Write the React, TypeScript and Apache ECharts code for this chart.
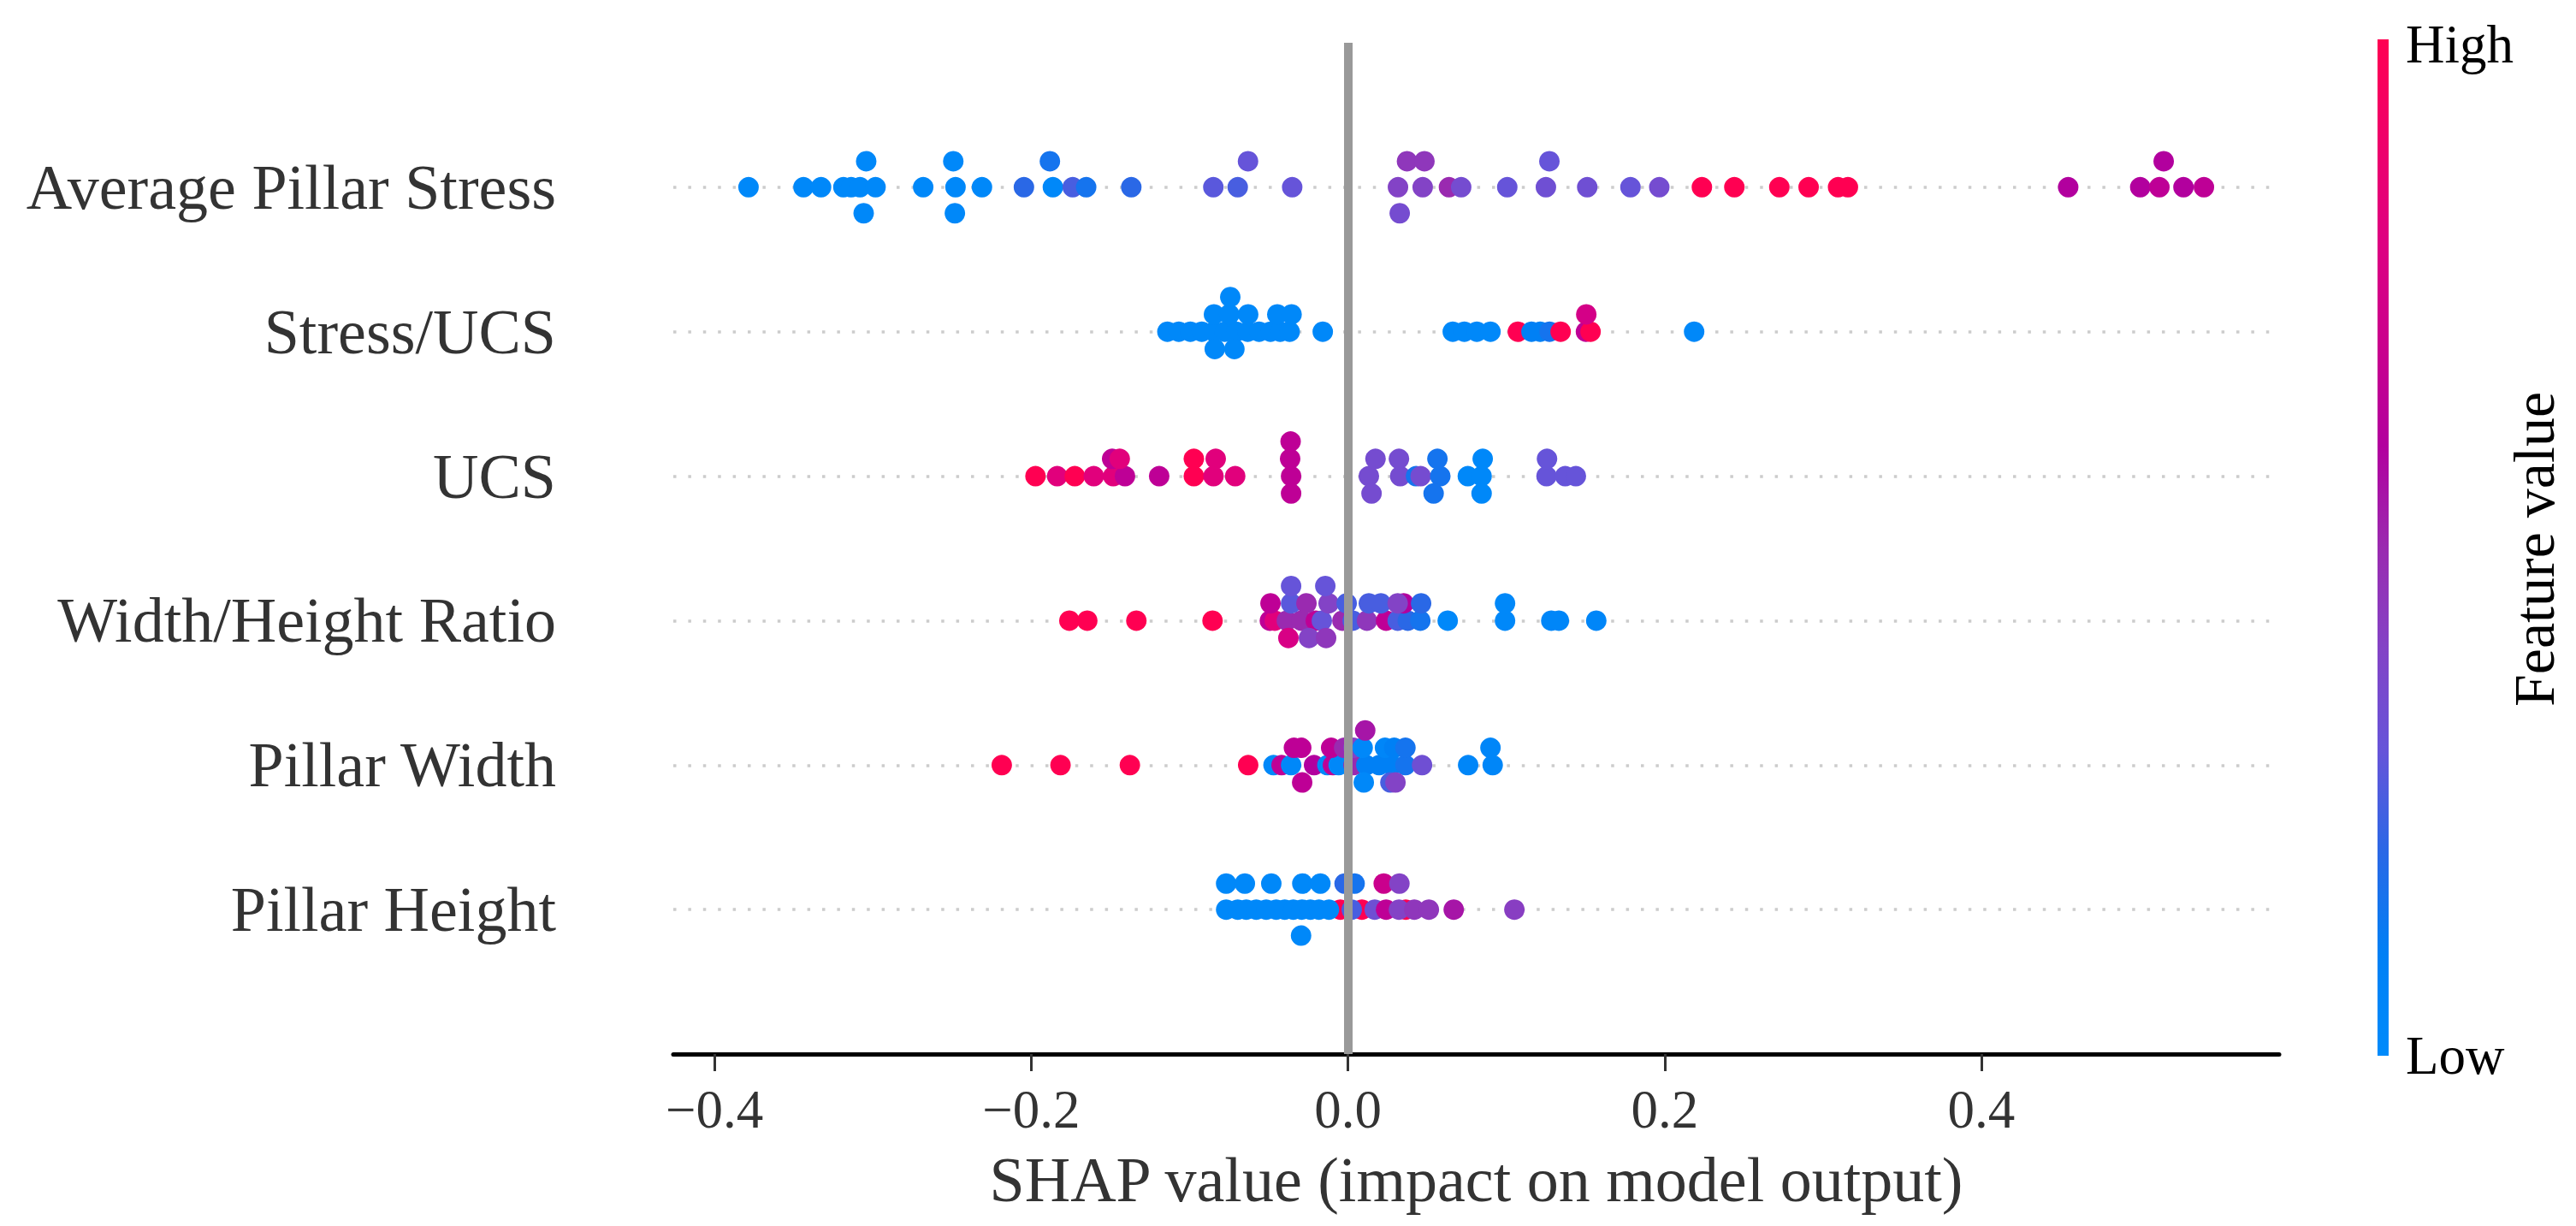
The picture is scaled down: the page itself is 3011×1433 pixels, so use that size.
import React, { useEffect, useRef } from "react";
import * as echarts from "echarts";

// Feature names, top to bottom
const features = [
  "Average Pillar Stress",
  "Stress/UCS",
  "UCS",
  "Width/Height Ratio",
  "Pillar Width",
  "Pillar Height",
];

// Each point: [SHAP value, swarm layer (negative = above the row line), normalised feature value]
const avgPillarStress: number[][] = [
  [-0.3785, 0, 0.03], [-0.3438, 0, 0.03], [-0.3327, 0, 0.03], [-0.3186, 0, 0.03], [-0.3137, 0, 0.03],
  [-0.3081, 0, 0.03], [-0.2983, 0, 0.03], [-0.2682, 0, 0.03], [-0.2478, 0, 0.03], [-0.2311, 0, 0.03],
  [-0.2046, 0, 0.2], [-0.1863, 0, 0.03], [-0.1738, 0, 0.25], [-0.1653, 0, 0.15], [-0.1368, 0, 0.2],
  [-0.085, 0, 0.28], [-0.0696, 0, 0.25], [-0.0352, 0, 0.3], [0.0316, 0, 0.4], [0.0472, 0, 0.4],
  [0.0638, 0, 0.5], [0.0715, 0, 0.35], [0.1006, 0, 0.3], [0.125, 0, 0.33], [0.1511, 0, 0.33],
  [0.1784, 0, 0.3], [0.1966, 0, 0.35], [0.2235, 0, 1], [0.244, 0, 1], [0.2724, 0, 1],
  [0.2909, 0, 1], [0.3095, 0, 1], [0.3157, 0, 1], [0.4548, 0, 0.6], [0.5003, 0, 0.6],
  [0.5124, 0, 0.65], [0.5276, 0, 0.6], [0.5405, 0, 0.65],
  [-0.3042, -1, 0.03], [-0.2492, -1, 0.03], [-0.1882, -1, 0.15], [-0.0631, -1, 0.3],
  [0.0373, -1, 0.45], [0.0483, -1, 0.45], [0.1272, -1, 0.3], [0.5151, -1, 0.6],
  [-0.3058, 1, 0.03], [-0.2482, 1, 0.03], [0.0327, 1, 0.35],
];

const stressUcs: number[][] = [
  [-0.114, 0, 0.03], [-0.1068, 0, 0.03], [-0.0995, 0, 0.03], [-0.0923, 0, 0.03], [-0.0846, 0, 0.03],
  [-0.0778, 0, 0.03], [-0.0705, 0, 0.03], [-0.0633, 0, 0.03], [-0.0561, 0, 0.03], [-0.0489, 0, 0.03],
  [-0.0428, 0, 0.03], [-0.0368, 0, 0.03], [-0.0159, 0, 0.03],
  [-0.0846, -1, 0.03], [-0.0749, -1, 0.03], [-0.063, -1, 0.03], [-0.0446, -1, 0.03], [-0.0356, -1, 0.03],
  [-0.0743, -2, 0.03],
  [-0.0841, 1, 0.03], [-0.0717, 1, 0.03],
  [0.0662, 0, 0.03], [0.0735, 0, 0.03], [0.0814, 0, 0.03], [0.09, 0, 0.03], [0.1073, 0, 1],
  [0.1159, 0, 0.1], [0.1214, 0, 0.1], [0.1273, 0, 0.15], [0.1343, 0, 1], [0.1503, 0, 0.65],
  [0.1532, 0, 1], [0.1505, -1, 0.75], [0.2186, 0, 0.03],
];

const ucs: number[][] = [
  [-0.1973, 0, 1], [-0.1836, 0, 0.82], [-0.1725, 0, 1], [-0.1605, 0, 0.82], [-0.1482, 0, 0.82],
  [-0.1408, 0, 0.65], [-0.1192, 0, 0.65], [-0.0973, 0, 1], [-0.0849, 0, 0.82], [-0.0712, 0, 0.82],
  [-0.0359, 0, 0.65], [0.0132, 0, 0.35], [0.033, 0, 0.35], [0.043, 0, 0.15], [0.0459, 0, 0.35],
  [0.0583, 0, 0.15], [0.0757, 0, 0.03], [0.0844, 0, 0.03], [0.1254, 0, 0.3], [0.1372, 0, 0.3],
  [0.1439, 0, 0.3],
  [-0.1489, -1, 0.65], [-0.1441, -1, 0.82], [-0.0973, -1, 1], [-0.0835, -1, 0.82], [-0.0365, -1, 0.65],
  [0.0174, -1, 0.35], [0.0322, -1, 0.35], [0.0565, -1, 0.15], [0.0851, -1, 0.03], [0.1257, -1, 0.3],
  [-0.0362, -2, 0.65],
  [-0.0359, 1, 0.65], [0.0149, 1, 0.35], [0.0541, 1, 0.15], [0.0844, 1, 0.03],
];

const widthHeightRatio: number[][] = [
  [-0.1759, 0, 1], [-0.1646, 0, 1], [-0.1336, 0, 1], [-0.0855, 0, 1], [-0.0493, 0, 0.65],
  [-0.0462, 0, 0.82], [-0.0386, 0, 0.5], [-0.0295, 0, 0.5], [-0.0203, 0, 0.65], [-0.0165, 0, 0.3],
  [-0.0035, 0, 0.5], [0.003, 0, 0.25], [0.012, 0, 0.45], [0.0241, 0, 0.65], [0.0314, 0, 0.25],
  [0.0378, 0, 0.2], [0.0457, 0, 0.15], [0.063, 0, 0.03], [0.0992, 0, 0.03], [0.1284, 0, 0.05],
  [0.1332, 0, 0.05], [0.1568, 0, 0.05],
  [-0.0489, -1, 0.65], [-0.0359, -1, 0.28], [-0.0262, -1, 0.5], [-0.0122, -1, 0.4], [-0.0008, -1, 0.25],
  [0.0132, -1, 0.25], [0.0208, -1, 0.25], [0.0352, -1, 0.6], [0.0314, -1, 0.4], [0.0462, -1, 0.2],
  [0.0992, -1, 0.03],
  [-0.0359, -2, 0.3], [-0.0143, -2, 0.3],
  [-0.0376, 1, 0.77], [-0.0246, 1, 0.4], [-0.0138, 1, 0.45],
];

const pillarWidth: number[][] = [
  [-0.2186, 0, 1], [-0.1815, 0, 1], [-0.1377, 0, 1], [-0.063, 0, 1], [-0.047, 0, 0.03],
  [-0.0419, 0, 0.65], [-0.0359, 0, 0.03], [-0.0214, 0, 0.6], [-0.013, 0, 0.03], [-0.0095, 0, 0.65],
  [-0.0059, 0, 0.03], [0.0035, 0, 0.5], [0.0116, 0, 0.1], [0.0197, 0, 0.1], [0.0278, 0, 0.1],
  [0.0363, 0, 0.15], [0.0468, 0, 0.33], [0.0759, 0, 0.05], [0.0914, 0, 0.05],
  [-0.0341, -1, 0.65], [-0.0295, -1, 0.65], [-0.0106, -1, 0.65], [-0.0024, -1, 0.5], [0.0035, -1, 0.4],
  [0.0093, -1, 0.03], [0.0234, -1, 0.05], [0.0292, -1, 0.1], [0.0363, -1, 0.15], [0.09, -1, 0.05],
  [0.0109, -2, 0.55],
  [-0.0289, 1, 0.65], [0.01, 1, 0.03], [0.0268, 1, 0.25], [0.03, 1, 0.4],
];

const pillarHeight: number[][] = [
  [-0.0048, 0, 1], [0.0088, 0, 1], [0.0365, 0, 1],
  [-0.0769, 0, 0.03], [-0.0696, 0, 0.03], [-0.0642, 0, 0.03], [-0.0579, 0, 0.03], [-0.0516, 0, 0.03],
  [-0.0453, 0, 0.03], [-0.0399, 0, 0.03], [-0.0345, 0, 0.03], [-0.0291, 0, 0.03], [-0.0237, 0, 0.03],
  [-0.0183, 0, 0.03], [-0.012, 0, 0.03], [0.0024, 0, 0.25], [0.0169, 0, 0.33], [0.0241, 0, 0.65],
  [0.0322, 0, 0.4], [0.0419, 0, 0.45], [0.0511, 0, 0.45], [0.0668, 0, 0.55], [0.1051, 0, 0.42],
  [-0.0769, -1, 0.03], [-0.0651, -1, 0.03], [-0.0484, -1, 0.03], [-0.0288, -1, 0.03], [-0.0174, -1, 0.03],
  [-0.0021, -1, 0.2], [0.0042, -1, 0.15], [0.0226, -1, 0.7], [0.0325, -1, 0.4],
  [-0.0296, 1, 0.03],
];

const rows = [avgPillarStress, stressUcs, ucs, widthHeightRatio, pillarWidth, pillarHeight];

const xTicks = [-0.4, -0.2, 0, 0.2, 0.4];
const colorbarLabels = ["High", "Low"];

// SHAP red_blue colormap, low -> high
const shapColors = [
  "#008bfb", "#0080f5", "#2a68e6", "#6654d9", "#8343c6", "#9a2ab0",
  "#b2009e", "#ca008d", "#de0081", "#ef006a", "#ff0052",
];

const FONT = "'Liberation Serif', 'Times New Roman', serif";

export default function App() {
  const ref = useRef<HTMLDivElement>(null);

  useEffect(() => {
    if (!ref.current) return;
    const chart = echarts.init(ref.current, undefined, { renderer: "svg" });

    const points: number[][] = [];
    rows.forEach((pts, r) => {
      const maxLayer = Math.max(...pts.map((p) => Math.abs(p[1])));
      const step = (0.9 * 0.4) / (maxLayer + 1);
      pts.forEach((p) => points.push([p[0], r + p[1] * step, p[2]]));
    });

    const nLines = features.length + 2;
    const splitColors = Array.from({ length: nLines }, (_, i) =>
      i === 0 || i === nLines - 1 ? "rgba(0,0,0,0)" : "#cccccc"
    );

    const fmt = (v: number) => (v < 0 ? "\u2212" + Math.abs(v).toFixed(1) : v.toFixed(1));

    const gradStops = shapColors
      .slice()
      .reverse()
      .map((c, i) => ({ offset: i / (shapColors.length - 1), color: c }));

    chart.setOption({
      animation: false,
      backgroundColor: "#ffffff",
      textStyle: { fontFamily: FONT },
      grid: { left: 787, right: 347, top: 50, bottom: 201, containLabel: false },
      xAxis: {
        type: "value",
        min: -0.426,
        max: 0.588,
        splitLine: { show: false },
        axisLine: { show: true, onZero: false, lineStyle: { color: "#000000", width: 5 } },
        axisTick: {
          show: true,
          customValues: xTicks,
          length: 20,
          lineStyle: { color: "#333333", width: 3 },
        },
        axisLabel: {
          customValues: xTicks,
          fontSize: 63,
          color: "#333333",
          margin: 33,
          fontFamily: FONT,
          formatter: fmt,
        },
        name: "SHAP value (impact on model output)",
        nameLocation: "middle",
        nameGap: 110,
        nameTextStyle: { fontSize: 74, color: "#333333", fontFamily: FONT },
      },
      yAxis: {
        type: "value",
        min: -1,
        max: features.length,
        interval: 1,
        inverse: true,
        axisLine: { show: false, onZero: false },
        axisTick: { show: false },
        axisLabel: {
          fontSize: 74,
          color: "#333333",
          margin: 137,
          fontFamily: FONT,
          formatter: (v: number) => features[v] ?? "",
        },
        splitLine: {
          show: true,
          lineStyle: { color: splitColors, width: 3.5, type: [3.5, 13.9] },
        },
      },
      visualMap: {
        show: false,
        type: "continuous",
        min: 0,
        max: 1,
        dimension: 2,
        seriesIndex: 1,
        inRange: { color: shapColors },
      },
      series: [
        {
          type: "line",
          data: [],
          z: 1,
          silent: true,
          markLine: {
            silent: true,
            symbol: ["none", "none"],
            label: { show: false },
            lineStyle: { color: "#999999", width: 10, type: "solid" },
            data: [{ xAxis: 0 }],
          },
        },
        {
          type: "scatter",
          z: 3,
          symbol: "circle",
          symbolSize: 24,
          itemStyle: { opacity: 1 },
          data: points,
        },
      ],
      graphic: [
        {
          type: "rect",
          shape: { x: 2779, y: 46, width: 13, height: 1188 },
          style: { fill: new echarts.graphic.LinearGradient(0, 0, 0, 1, gradStops) },
        },
        {
          type: "text",
          x: 2812,
          y: 52,
          style: {
            text: colorbarLabels[0],
            fontSize: 63,
            fontFamily: FONT,
            fill: "#000000",
            align: "left",
            verticalAlign: "middle",
          },
        },
        {
          type: "text",
          x: 2812,
          y: 1234,
          style: {
            text: colorbarLabels[1],
            fontSize: 63,
            fontFamily: FONT,
            fill: "#000000",
            align: "left",
            verticalAlign: "middle",
          },
        },
        {
          type: "text",
          x: 2962,
          y: 642,
          rotation: Math.PI / 2,
          style: {
            text: "Feature value",
            fontSize: 68,
            fontFamily: FONT,
            fill: "#000000",
            align: "center",
            verticalAlign: "middle",
          },
        },
      ],
    });

    return () => chart.dispose();
  }, []);

  return (
    <div
      ref={ref}
      style={{ position: "fixed", left: 0, top: 0, width: 3011, height: 1433, background: "#fff" }}
    />
  );
}
